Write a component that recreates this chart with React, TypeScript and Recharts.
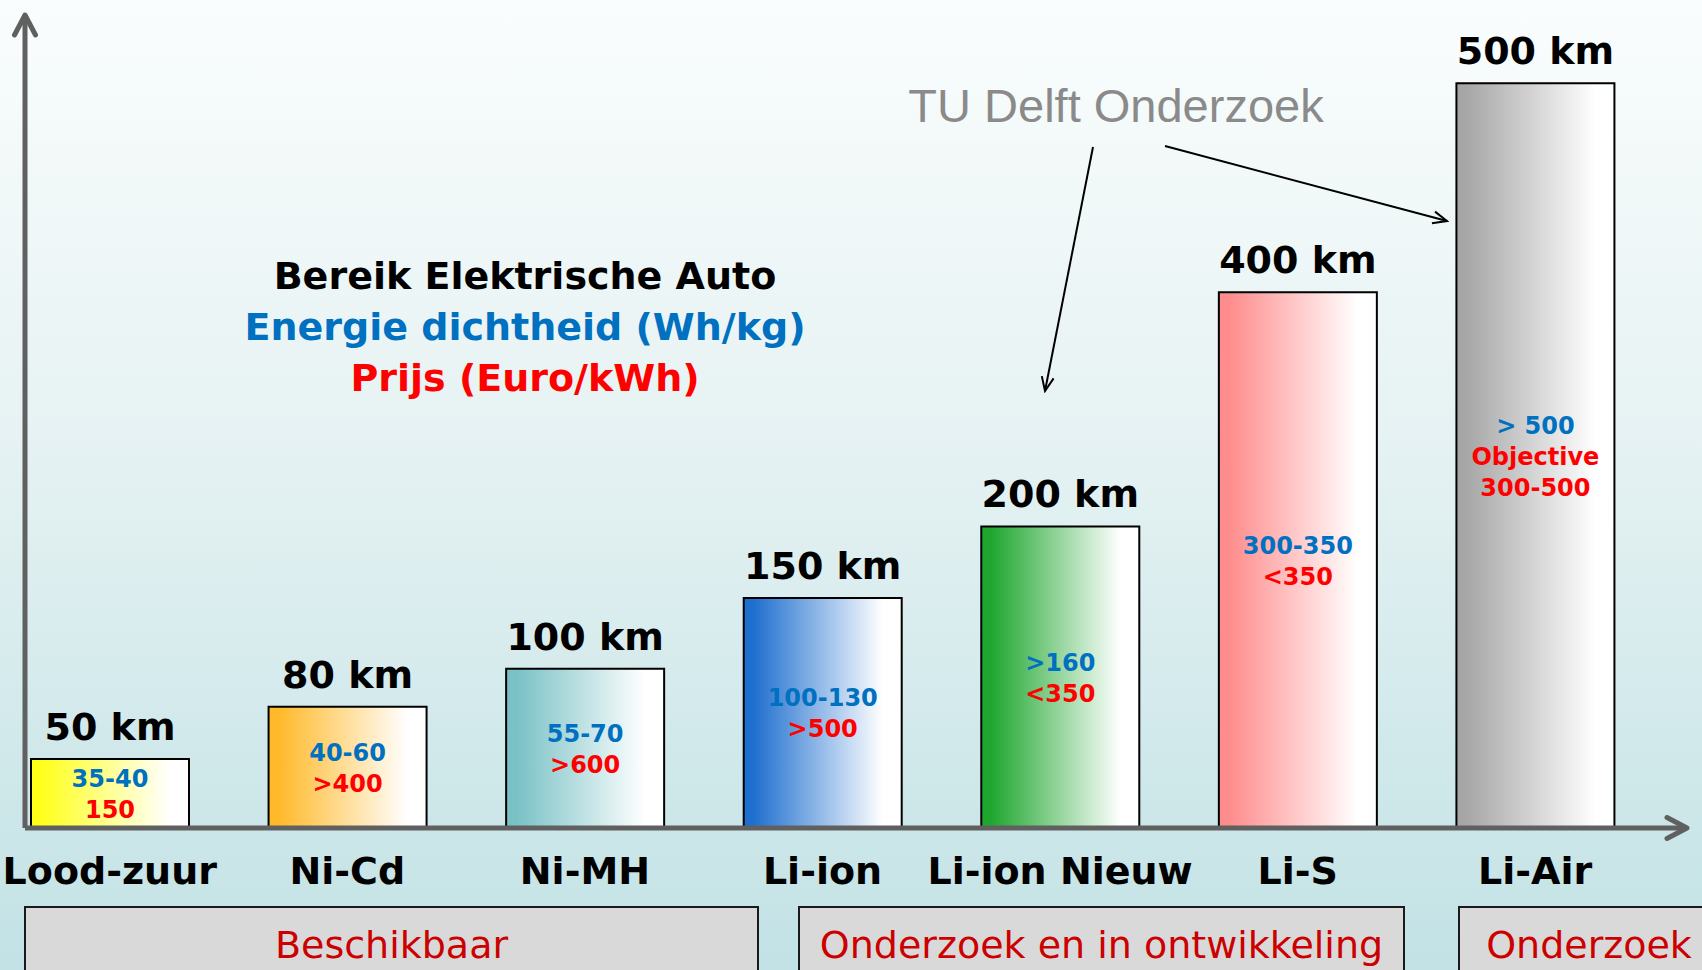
import { Bar, BarChart, Cell, LabelList, XAxis, YAxis } from "recharts";

const categories = ["Lood-zuur", "Ni-Cd", "Ni-MH", "Li-ion", "Li-ion Nieuw", "Li-S", "Li-Air"];
const rangeKm = [50, 80, 100, 150, 200, 400, 500];
// the slide draws the bars schematically, not to km scale: heights as drawn, in % of the axis
const barLevel = [8.5, 14.9, 19.6, 28.3, 37.1, 65.9, 91.6];
const energyDensity = ["35-40", "40-60", "55-70", "100-130", ">160", "300-350", "> 500"];
const priceLines = [["150"], [">400"], [">600"], [">500"], ["<350"], ["<350"], ["Objective", "300-500"]];
const groups = ["Beschikbaar", "Onderzoek en in ontwikkeling", "Onderzoek"];
const titleLines = ["Bereik Elektrische Auto", "Energie dichtheid (Wh/kg)", "Prijs (Euro/kWh)"];
const annotation = "TU Delft Onderzoek";

const barColors = ["#ffff1a", "#ffb92a", "#79c1c5", "#1f6fcf", "#1fa62f", "#ff8c8c", "#a6a6a6"];
const titleColors = ["#000000", "#0070c0", "#ff0000"];
const font = "'DejaVu Sans', Verdana, sans-serif";
const axisColor = "#606060";

const data = categories.map((name, i) => ({ name, level: barLevel[i], km: rangeKm[i] }));

function KmLabel(props: any) {
  const x = Number(props.x);
  const y = Number(props.y);
  const width = Number(props.width);
  return (
    <text x={x + width / 2} y={y - 19} textAnchor="middle" fontFamily={font} fontWeight={700} fontSize={38} fill="#000">
      {`${props.value} km`}
    </text>
  );
}

function InnerLabel(props: any) {
  const i = categories.indexOf(props.value);
  if (i < 0) return null;
  const x = Number(props.x) + Number(props.width) / 2;
  const cy = Number(props.y) + Number(props.height) / 2;
  const lines = [energyDensity[i], ...priceLines[i]];
  const step = 31;
  const first = cy - ((lines.length - 1) * step) / 2 + 9;
  return (
    <g>
      {lines.map((t, k) => (
        <text
          key={k}
          x={x}
          y={first + k * step}
          textAnchor="middle"
          fontFamily={font}
          fontWeight={700}
          fontSize={24}
          fill={k === 0 ? "#0070c0" : "#ff0000"}
        >
          {t}
        </text>
      ))}
    </g>
  );
}

function Overlay() {
  const boxes = [
    { x: 25, w: 733 },
    { x: 799, w: 605 },
    { x: 1459, w: 260 },
  ];
  return (
    <svg width={1702} height={970} style={{ position: "absolute", left: 0, top: 0, pointerEvents: "none" }}>
      {titleLines.map((t, k) => (
        <text key={t} x={525} y={289 + k * 51} textAnchor="middle" fontFamily={font} fontWeight={700} fontSize={38} fill={titleColors[k]}>
          {t}
        </text>
      ))}
      <text x={1116} y={122} textAnchor="middle" fontFamily="'Liberation Sans', Arial, sans-serif" fontSize={47} fill="#8a8a8a">
        {annotation}
      </text>
      <line x1={1093} y1={147} x2={1045} y2={391} stroke="#000" strokeWidth={2} markerEnd="url(#thinArrow)" />
      <line x1={1165} y1={146} x2={1447} y2={221} stroke="#000" strokeWidth={2} markerEnd="url(#thinArrow)" />
      {boxes.map((b, k) => (
        <g key={k}>
          <rect x={b.x} y={907} width={b.w} height={90} fill="#d9d9d9" stroke="#1a1a1a" strokeWidth={2} />
          <text x={b.x + b.w / 2} y={958} textAnchor="middle" fontFamily={font} fontSize={38} fill="#cc0000">
            {groups[k]}
          </text>
        </g>
      ))}
    </svg>
  );
}

export default function App() {
  return (
    <div
      style={{
        position: "relative",
        width: 1702,
        height: 970,
        overflow: "hidden",
        background: "linear-gradient(180deg, #fafdfd 0%, #e6f2f3 45%, #c2e2e5 100%)",
      }}
    >
      <style>{"body{margin:0}"}</style>
      <svg width={0} height={0} style={{ position: "absolute" }}>
        <defs>
          {barColors.map((c, i) => (
            <linearGradient key={c} id={`barGrad${i}`} x1="0" y1="0" x2="1" y2="0">
              <stop offset="0%" stopColor={c} />
              <stop offset="6%" stopColor={c} />
              <stop offset="88%" stopColor="#ffffff" />
              <stop offset="100%" stopColor="#ffffff" />
            </linearGradient>
          ))}
          <marker
            id="axisArrow"
            viewBox="-28 -16 34 32"
            refX={0}
            refY={0}
            markerWidth={34}
            markerHeight={32}
            markerUnits="userSpaceOnUse"
            orient="auto-start-reverse"
          >
            <path d="M -20 -10.5 L 0 0 L -20 10.5" fill="none" stroke={axisColor} strokeWidth={5} strokeLinecap="round" strokeLinejoin="round" />
          </marker>
          <marker
            id="thinArrow"
            viewBox="-16 -8 18 16"
            refX={0}
            refY={0}
            markerWidth={18}
            markerHeight={16}
            markerUnits="userSpaceOnUse"
            orient="auto"
          >
            <path d="M -14 -6 L 0 0 L -14 6" fill="none" stroke="#000" strokeWidth={2} />
          </marker>
        </defs>
      </svg>
      <BarChart width={1702} height={970} data={data} margin={{ top: 15, right: 15, bottom: 82, left: 0 }}>
        <XAxis
          dataKey="name"
          interval={0}
          height={60}
          padding={{ left: -34, right: 33 }}
          tickLine={false}
          tickMargin={23}
          tick={{ fill: "#000", fontSize: 38, fontWeight: 700, fontFamily: font }}
          axisLine={{ stroke: axisColor, strokeWidth: 5, markerEnd: "url(#axisArrow)" }}
        />
        <YAxis
          type="number"
          domain={[0, 100]}
          width={25}
          tick={false}
          tickLine={false}
          axisLine={{ stroke: axisColor, strokeWidth: 5, markerStart: "url(#axisArrow)" }}
        />
        <Bar dataKey="level" barSize={158} stroke="#000" strokeWidth={2} isAnimationActive={false}>
          {data.map((d, i) => (
            <Cell key={d.name} fill={`url(#barGrad${i})`} />
          ))}
          <LabelList dataKey="km" content={KmLabel} />
          <LabelList dataKey="name" content={InnerLabel} />
        </Bar>
      </BarChart>
      <Overlay />
    </div>
  );
}
